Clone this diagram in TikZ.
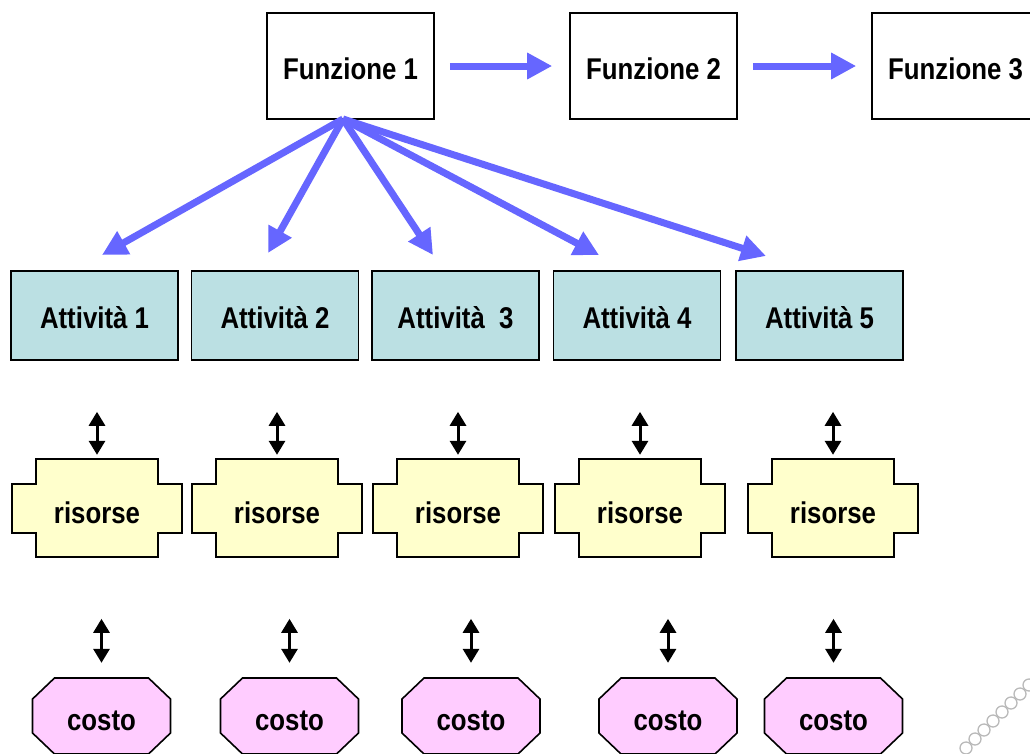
\documentclass[tikz,border=0pt]{standalone}
\usepackage{fontspec}
\setmainfont{Liberation Sans}[FakeStretch=0.86]
\usetikzlibrary{arrows.meta}
\definecolor{flow}{RGB}{102,102,255}
\definecolor{attfill}{RGB}{187,224,227}
\definecolor{resfill}{RGB}{255,255,204}
\definecolor{costfill}{RGB}{255,204,255}
\tikzset{
  boxline/.style={draw=black, line width=1.6pt, line join=miter},
  funz/.style={boxline, fill=white, minimum width=167pt, minimum height=106pt,
    inner sep=0pt, text height=26.6pt, text depth=0pt},
  att/.style={funz, fill=attfill, minimum height=89pt, text height=25pt},
  restext/.style={inner sep=0pt, minimum width=170pt, minimum height=98pt,
    text height=30pt, text depth=0pt},
  costtext/.style={inner sep=0pt, minimum width=138pt, minimum height=76pt,
    text height=28pt, text depth=0pt},
  flowarrow/.style={draw=flow, line width=7pt,
    -{Triangle[length=25pt,width=25pt]}},
  dbl/.style={draw=black, line width=3pt,
    {Triangle[length=14pt,width=16pt]}-{Triangle[length=14pt,width=16pt]}},
  ring/.style={draw=gray!55, line width=1.3pt},
}
\begin{document}
\begin{tikzpicture}[x=1pt, y=-1pt, font=\fontsize{30}{36}\selectfont\bfseries]
\useasboundingbox (0,0) rectangle (1030,753);

% functions
\node[funz] (f1) at (350.5,66) {Funzione 1};
\node[funz] (f2) at (653.5,66) {Funzione 2};
\node[funz] (f3) at (955.5,66) {Funzione 3};
\draw[flowarrow, shorten <=15pt, shorten >=17pt] (f1.east) -- (f2.west);
\draw[flowarrow, shorten <=15pt, shorten >=15pt] (f2.east) -- (f3.west);

% activities
\node[att] (a1) at (94.5,315.5) {Attività 1};
\node[att] (a2) at (275,315.5) {Attività 2};
\node[att] (a3) at (455.5,315.5) {Attività~~3};
\node[att] (a4) at (637,315.5) {Attività 4};
\node[att] (a5) at (819.5,315.5) {Attività 5};

% fan of arrows from Funzione 1
\coordinate (fan) at (343,119);
\coordinate (t1) at (102,255);
\coordinate (t2) at (268,253);
\coordinate (t3) at (433,255);
\coordinate (t4) at (599,255);
\coordinate (t5) at (766,256);
\foreach \t in {t1,t2,t3,t4,t5}
  \draw[flowarrow] (fan) -- (\t);

% resources
\foreach \i/\x in {1/97,2/277,3/458,4/640,5/833}{
  \filldraw[boxline, fill=resfill]
    (\x-61,459) -- (\x+61,459) -- (\x+61,484) -- (\x+85,484) -- (\x+85,533)
    -- (\x+61,533) -- (\x+61,557) -- (\x-61,557) -- (\x-61,533)
    -- (\x-85,533) -- (\x-85,484) -- (\x-61,484) -- cycle;
  \node[restext] (r\i) at (\x,508) {risorse};
}

% costs
\foreach \i/\x in {1/101.5,2/289.5,3/471,4/668,5/833.5}{
  \filldraw[boxline, fill=costfill]
    (\x-47,678) -- (\x+47,678) -- (\x+69,699) -- (\x+69,733)
    -- (\x+47,754) -- (\x-47,754) -- (\x-69,733) -- (\x-69,699) -- cycle;
  \node[costtext] (c\i) at (\x,716) {costo};
}

% double arrows
\foreach \i in {1,...,5}{
  \draw[dbl] ([yshift=47pt]r\i.north) -- ([yshift=4pt]r\i.north);
  \draw[dbl] ([yshift=59pt]c\i.north) -- ([yshift=15pt]c\i.north);
}

% faint chain of rings in the corner
\foreach \k in {0,...,7}
  \draw[ring] (966+9*\k,748-9*\k) circle (6pt);
\end{tikzpicture}
\end{document}
